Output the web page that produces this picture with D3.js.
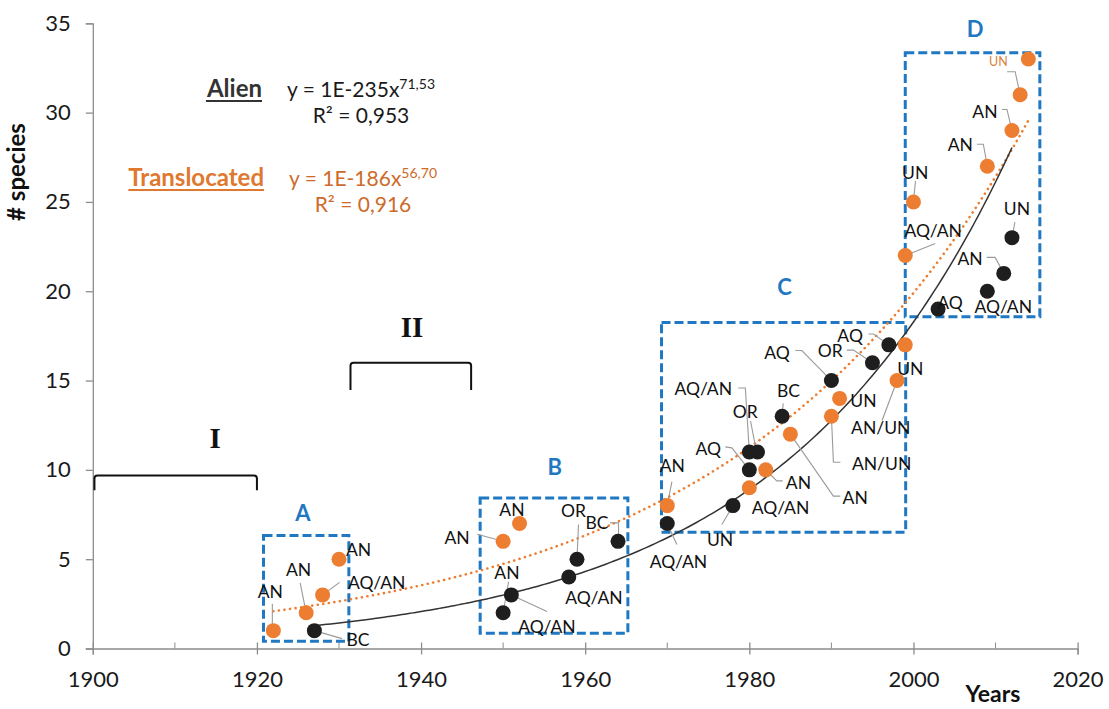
<!DOCTYPE html>
<html>
<head>
<meta charset="utf-8">
<script src="https://cdn.jsdelivr.net/npm/d3@7"></script>
<style>
body { margin: 0; background: #fff; }
text { font-family: Lato, 'Liberation Sans', sans-serif; }
</style>
</head>
<body>
<div id="chart"></div>
<script>
// alien species (black dots)
var alienYears  = [1927, 1950, 1951, 1958, 1959, 1964, 1970, 1978, 1980, 1980, 1981, 1984, 1990, 1995, 1997, 2003, 2009, 2011, 2012];
var alienCounts = [1, 2, 3, 4, 5, 6, 7, 8, 10, 11, 11, 13, 15, 16, 17, 19, 20, 21, 23];
var alienCodes  = ['BC', 'AN', 'AQ/AN', 'AQ/AN', 'OR', 'BC', 'AQ/AN', 'UN', 'AQ', 'AQ/AN', 'OR', 'BC', 'AQ', 'OR', 'AQ', 'AQ', 'AQ/AN', 'AN', 'UN'];

// translocated species (orange dots)
var transYears  = [1922, 1926, 1928, 1930, 1950, 1952, 1970, 1980, 1982, 1985, 1990, 1991, 1998, 1999, 1999, 2000, 2009, 2012, 2013, 2014];
var transCounts = [1, 2, 3, 5, 6, 7, 8, 9, 10, 12, 13, 14, 15, 17, 22, 25, 27, 29, 31, 33];
var transCodes  = ['AN', 'AN', 'AQ/AN', 'AN', 'AN', 'AN', 'AN', 'AQ/AN', 'AN', 'AN', 'AN/UN', 'UN', 'AN/UN', 'UN', 'AQ/AN', 'UN', 'AN', 'AN', 'UN', ''];

var xTicks = [1900, 1920, 1940, 1960, 1980, 2000, 2020];
var xMinor = [1910, 1930, 1950, 1970, 1990, 2010];
var yTicks = [0, 5, 10, 15, 20, 25, 30, 35];

var boxNames = ['A', 'B', 'C', 'D'];
var periodNames = ['I', 'II'];

// ---- layout (pixels / chart units), not data ----
var w = 1109, h = 709;
var boxX = [[1920.8, 1931.2], [1947.2, 1965.2], [1969.3, 1999.05], [1999, 2015.4]];
var boxY = [[0.4, 6.32], [0.86, 8.43], [6.51, 18.25], [18.57, 33.35]];
var boxLabelAt = [[1925.6, 7.55], [1956.3, 10.15], [1984.3, 20.2], [2007.5, 34.66]];
var bracketX = [[1900.2, 1920], [1931.4, 1946.1]];
var bracketY = [[9.69, 8.86], [16.0, 14.47]];
var periodLabelAt = [[1914.9, 11.8], [1938.9, 18.0]];

// label offsets: [dx, dy, anchor], leader: list of [dx, dy] from the dot
var alienLabels = [
	[43.6, 9, 'middle'], [3.8, -39.7, 'middle'], [6.9, 32.2, 'start'], [-3.6, 21, 'start'],
	[-3.5, -48, 'middle'], [-21, -18.4, 'middle'], [11.2, 38.4, 'middle'], [-12.8, 33.9, 'middle'],
	[-41, -21, 'middle'], [-46, -62.7, 'middle'], [-12.4, -40, 'middle'], [6.3, -25.4, 'middle'],
	[-54.5, -28, 'middle'], [-42.3, -12, 'middle'], [-38.7, -9, 'middle'], [12, -6.7, 'middle'],
	[16, 16, 'middle'], [-33.6, -14.5, 'middle'], [5, -29, 'middle']
];
var alienLeaders = [
	[[0, 0], [27.6, 8]], [[5.4, -31], [0, 0]], [[0, 0], [35.6, 16.5]], null,
	[[1.5, -34.6], [0, 0]], [[-8, -18.4], [0.5, -18.4], [0.5, 0]], [[0, 0], [9.6, 21]], [[0, 0], [-11, 19]],
	[[-24, -23], [-17.5, -22], [0, 0]], [[-11, -64], [-4, -64], [0, 0]], [[-7, -31], [-1, 0]], [[1, -13], [0, 0]],
	[[-36, -30], [-29.5, -30], [0, 0]], [[-25.6, -12.6], [-19, -12.6], [0, 0]], [[-20.4, -10.8], [-15.4, -10.8], [0, 0]], null,
	null, [[-17, -16], [-8.6, -16], [0, 0]], [[3, -15.5], [0, 0]]
];
var transLabels = [
	[-3, -39, 'middle'], [-7.6, -43, 'middle'], [25.4, -11.8, 'start'], [19.6, -9.6, 'middle'],
	[-46, -3.4, 'middle'], [-7.6, -14, 'middle'], [5, -39.4, 'middle'], [2.5, 20, 'start'],
	[32.7, 13, 'middle'], [64.8, 63.5, 'middle'], [20.5, 48, 'start'], [23.8, 2.5, 'middle'],
	[-46, 47, 'start'], [5, 24, 'middle'], [28, -25, 'middle'], [1.7, -28.8, 'middle'],
	[-27, -21, 'middle'], [-27, -18.5, 'middle'], [-21.7, -33, 'middle'], null
];
var transLeaders = [
	[[-1, -27], [-1, 0]], [[-6, -30], [0, 0]], [[0, 0], [17, -12.5]], null,
	[[-26, -7], [0, 0]], null, [[4.6, -24], [0, 0]], null,
	[[0, 0], [11, 11], [17, 11]], [[0, 0], [43, 62], [50, 62]], [[0, 0], [2, 46], [9, 46]], null,
	[[-15, 40], [0, 0]], null, [[30, -12], [0, 0]], [[2, -21], [0, 0]],
	[[-10.5, -22], [-4, -22], [0, 0]], [[-10, -21], [-5, -21], [0, 0]], [[-13, -23], [-5, -23], [0, 0]], null
];

var orange = '#ED7D31';
var dark = '#1e1e1e';
var blue = '#1f78c1';

var svg = d3.select('#chart').append('svg')
	.attr('width', w)
	.attr('height', h);
svg.append('rect').attr('width', w).attr('height', h).attr('fill', '#fff');

var x = d3.scaleLinear().domain([1900, 2020]).range([92.8, 1077.6]);
var y = d3.scaleLinear().domain([0, 35]).range([648.5, 23.3]);

// axes
var xAxis = svg.append('g')
	.attr('transform', 'translate(0,' + y(0) + ')')
	.call(d3.axisBottom(x).tickValues(xTicks).tickFormat(d3.format('d')).tickSize(6).tickPadding(17));
xAxis.selectAll('.tick line').attr('y1', -6);
xAxis.selectAll('.tick text').attr('font-size', 22).attr('fill', '#1a1a1a').style('font-family', 'Lato');
svg.append('g').selectAll('line').data(xMinor).enter().append('line')
	.attr('x1', function(d) { return x(d); }).attr('x2', function(d) { return x(d); })
	.attr('y1', y(0) - 6).attr('y2', y(0))
	.attr('stroke', '#8c8c8c');

var yAxis = svg.append('g')
	.attr('transform', 'translate(' + x(1900) + ',0)')
	.call(d3.axisLeft(y).tickValues(yTicks).tickSize(7).tickPadding(15));
yAxis.selectAll('.tick text').attr('font-size', 22).attr('fill', '#1a1a1a').style('font-family', 'Lato');
svg.selectAll('.domain, .tick line').attr('stroke', '#8c8c8c').attr('stroke-width', 1.3);

svg.append('text')
	.attr('transform', 'translate(25,172) rotate(-90)')
	.attr('text-anchor', 'middle')
	.attr('font-size', 24).attr('font-weight', 'bold').attr('fill', '#111')
	.text('# species');
svg.append('text')
	.attr('x', 993).attr('y', 702)
	.attr('text-anchor', 'middle')
	.attr('font-size', 23).attr('font-weight', 'bold').attr('fill', '#111')
	.text('Years');

// dashed boxes
boxNames.forEach(function(name, i) {
	svg.append('rect')
		.attr('x', x(boxX[i][0])).attr('y', y(boxY[i][1]))
		.attr('width', x(boxX[i][1]) - x(boxX[i][0]))
		.attr('height', y(boxY[i][0]) - y(boxY[i][1]))
		.attr('fill', 'none')
		.attr('stroke', blue).attr('stroke-width', 3)
		.attr('stroke-dasharray', '9,4');
	svg.append('text')
		.attr('x', x(boxLabelAt[i][0])).attr('y', y(boxLabelAt[i][1]))
		.attr('dy', '0.35em')
		.attr('text-anchor', 'middle')
		.attr('font-size', 22).attr('font-weight', 'bold').attr('fill', blue)
		.text(name);
});

// period brackets
periodNames.forEach(function(name, i) {
	var x0 = x(bracketX[i][0]), x1 = x(bracketX[i][1]);
	var yt = y(bracketY[i][0]), yb = y(bracketY[i][1]);
	svg.append('path')
		.attr('d', 'M' + x0 + ',' + yb + ' L' + x0 + ',' + (yt + 3) + ' Q' + x0 + ',' + yt + ' ' + (x0 + 3) + ',' + yt +
			' L' + (x1 - 3) + ',' + yt + ' Q' + x1 + ',' + yt + ' ' + x1 + ',' + (yt + 3) + ' L' + x1 + ',' + yb)
		.attr('fill', 'none').attr('stroke', '#111').attr('stroke-width', 2);
	svg.append('text')
		.attr('x', x(periodLabelAt[i][0])).attr('y', y(periodLabelAt[i][1]))
		.attr('dy', '0.35em')
		.attr('text-anchor', 'middle')
		.attr('font-size', 29).attr('font-weight', 'bold').attr('fill', '#111')
		.style('font-family', "'Liberation Serif', 'DejaVu Serif', serif")
		.text(name);
});

// power trend lines (least squares on log-log, like the spreadsheet trendline)
function powerFit(xs, ys) {
	var lx = xs.map(Math.log), ly = ys.map(Math.log);
	var mx = d3.mean(lx), my = d3.mean(ly);
	var sxy = d3.sum(lx, function(v, i) { return (v - mx) * (ly[i] - my); });
	var sxx = d3.sum(lx, function(v) { return (v - mx) * (v - mx); });
	var b = sxy / sxx;
	var a = my - b * mx;
	return function(t) { return Math.exp(a + b * Math.log(t)); };
}
function trendPoints(xs, ys) {
	var f = powerFit(xs, ys);
	var lo = d3.min(xs), hi = d3.max(xs);
	return d3.range(lo, hi + 0.01, 0.5).map(function(t) { return [t, f(t)]; });
}
var line = d3.line()
	.x(function(d) { return x(d[0]); })
	.y(function(d) { return y(d[1]); })
	.curve(d3.curveMonotoneX);

svg.append('path')
	.attr('d', line(trendPoints(transYears, transCounts)))
	.attr('fill', 'none').attr('stroke', orange).attr('stroke-width', 2.6)
	.attr('stroke-dasharray', '0.1,5.5').attr('stroke-linecap', 'round');
svg.append('path')
	.attr('d', line(trendPoints(alienYears, alienCounts)))
	.attr('fill', 'none').attr('stroke', '#333').attr('stroke-width', 1.5);

// leaders, dots and codes
function drawSeries(years, counts, codes, labels, leaders, color) {
	var g = svg.append('g');
	years.forEach(function(yr, i) {
		var px = x(yr), py = y(counts[i]);
		if (leaders[i]) {
			g.append('polyline')
				.attr('points', leaders[i].map(function(p) { return (px + p[0]) + ',' + (py + p[1]); }).join(' '))
				.attr('fill', 'none').attr('stroke', '#9a9a9a').attr('stroke-width', 1.1);
		}
	});
	g.selectAll('circle').data(years).enter().append('circle')
		.attr('cx', function(d) { return x(d); })
		.attr('cy', function(d, i) { return y(counts[i]); })
		.attr('r', 7.5)
		.attr('fill', color);
	return g;
}
drawSeries(transYears, transCounts, transCodes, transLabels, transLeaders, orange);
drawSeries(alienYears, alienCounts, alienCodes, alienLabels, alienLeaders, dark);

function drawCodes(years, counts, codes, labels) {
	years.forEach(function(yr, i) {
		if (!codes[i] || !labels[i]) return;
		var small = (i === transYears.length - 2 && codes === transCodes);
		svg.append('text')
			.attr('x', x(yr) + labels[i][0])
			.attr('y', y(counts[i]) + labels[i][1])
			.attr('dy', '0.35em')
			.attr('text-anchor', labels[i][2])
			.attr('font-size', small ? 12.5 : 17.5)
			.attr('fill', small ? '#d9823f' : '#111')
			.text(codes[i]);
	});
}
drawCodes(transYears, transCounts, transCodes, transLabels);
drawCodes(alienYears, alienCounts, alienCodes, alienLabels);

// equations
function eqBlock(title, coef, expo, r2, tx, ty, color, titleColor) {
	var t = svg.append('text')
		.attr('x', tx - 25).attr('y', ty)
		.attr('text-anchor', 'end')
		.attr('font-size', 24).attr('font-weight', 'bold').attr('fill', titleColor)
		.text(title);
	var bb = t.node().getBBox();
	svg.append('line')
		.attr('x1', bb.x).attr('x2', bb.x + bb.width)
		.attr('y1', ty + 4).attr('y2', ty + 4)
		.attr('stroke', titleColor).attr('stroke-width', 2);
	var e = svg.append('text')
		.attr('x', tx).attr('y', ty)
		.attr('font-size', 21).attr('fill', color);
	e.append('tspan').text('y = ' + coef + 'x');
	e.append('tspan').attr('dy', -8).attr('font-size', 14).text(expo);
	svg.append('text')
		.attr('x', tx + 74).attr('y', ty + 26)
		.attr('text-anchor', 'middle')
		.attr('font-size', 21).attr('fill', color)
		.text('R\u00b2 = ' + r2);
}
eqBlock('Alien', '1E-235', '71,53', '0,953', 287, 97, '#1a1a1a', '#333');
eqBlock('Translocated', '1E-186', '56,70', '0,916', 289, 186, '#cd6b2a', '#e0782f');
</script>
</body>
</html>
